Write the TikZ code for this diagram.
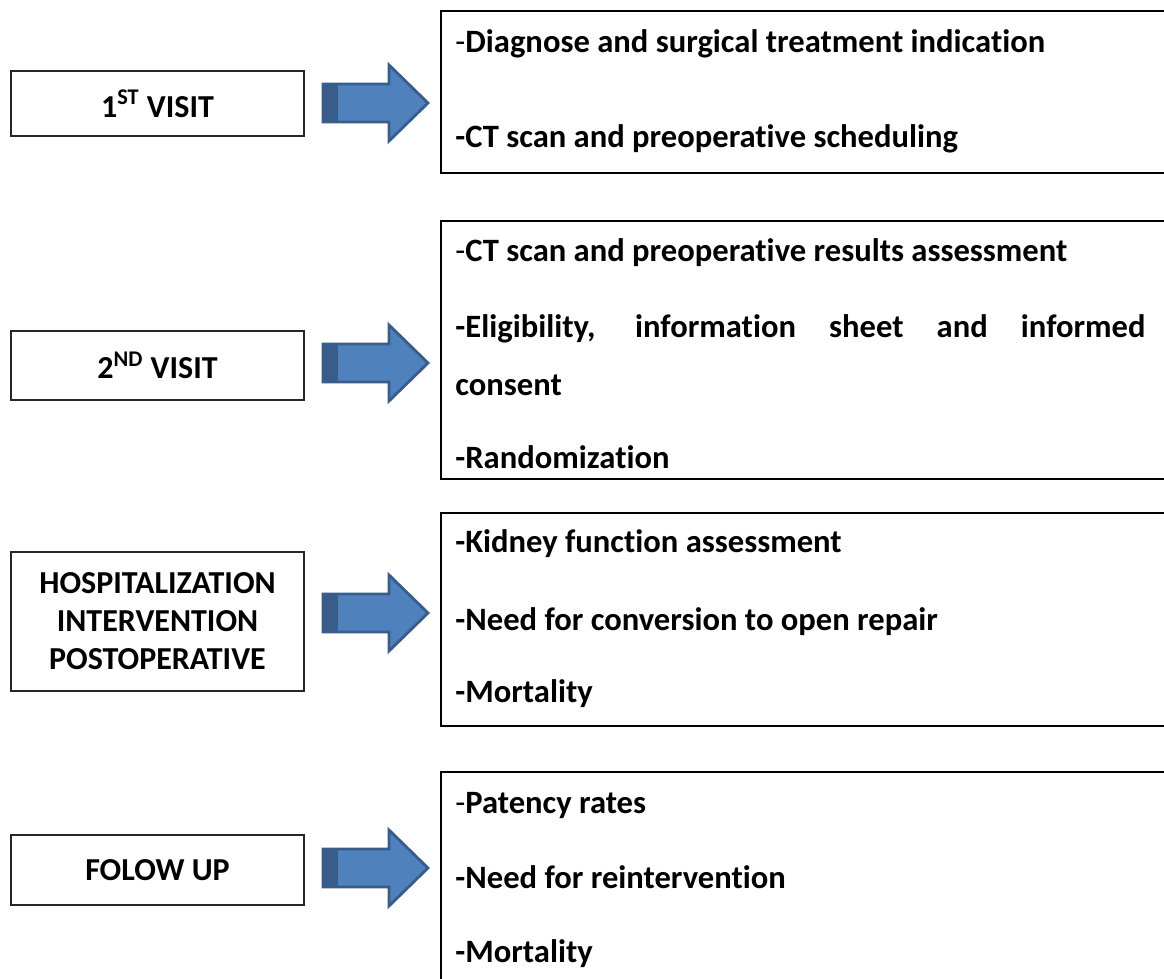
\documentclass[tikz,border=0pt]{standalone}
\usepackage{fontspec}
\setmainfont{Carlito}[Ligatures={TeX,NoCommon}]
\definecolor{arrowblue}{RGB}{79,129,189}
\definecolor{arrowdark}{RGB}{56,93,138}

\begin{document}
\begin{tikzpicture}[x=0.5pt,y=-0.5pt,
  stage/.style={draw=black!85,line width=0.7pt,minimum width=146.5pt,align=center,
    font=\bfseries\fontsize{16}{19}\selectfont},
  item/.style={anchor=base west,inner sep=0pt,font=\bfseries\fontsize{16.3}{19}\selectfont},
  panel/.style={draw=black,line width=1pt}]

  \useasboundingbox (0,0) rectangle (1164,979);
  \clip (0,0) rectangle (1164,979);

  % stages on the left
  \node[stage,minimum height=32.5pt] (stage1) at (157.5,103.5) {1\textsuperscript{ST} VISIT};
  \node[stage,minimum height=34.5pt] (stage2) at (157.5,365.5) {2\textsuperscript{ND} VISIT};
  \node[stage,minimum height=69.5pt] (stage3) at (157.5,621.5) {HOSPITALIZATION\\INTERVENTION\\POSTOPERATIVE};
  \node[stage,minimum height=35pt] (stage4) at (157.5,870) {FOLOW UP};

  % block arrows
  \foreach \y in {103,363,613,868} {
    \draw[fill=arrowblue,draw=arrowdark,line width=1.4pt,line join=miter]
      (323,\y-19) -- (389,\y-19) -- (389,\y-38) -- (428,\y) -- (389,\y+38)
      -- (389,\y+19) -- (323,\y+19) -- cycle;
    \fill[arrowdark] (323,\y-19) rectangle (338,\y+19);
  }

  % panels on the right
  \draw[panel] (1180,11) -- (441,11) -- (441,173) -- (1180,173);
  \draw[panel] (1180,221) -- (441,221) -- (441,479) -- (1180,479);
  \draw[panel] (1180,513) -- (441,513) -- (441,726) -- (1180,726);
  \draw[panel] (1180,772) -- (441,772) -- (441,990);

  \node[item] (diag) at (455,53) {{\mdseries-}Diagnose and surgical treatment indication};
  \node[item] (sched) at (455,148) {-CT scan and preoperative scheduling};

  \node[item] (assess) at (455,262) {{\mdseries-}CT scan and preoperative results assessment};
  \node[item] (elig) at (455,337) {\makebox[345pt][s]{-Eligibility, information sheet and informed}};
  \node[item] (consent) at (455,395) {consent};
  \node[item] (random) at (455,468) {-Randomization};

  \node[item] (kidney) at (455,552) {-Kidney function assessment};
  \node[item] (conv) at (455,630) {-Need for conversion to open repair};
  \node[item] (mort1) at (455,702) {-Mortality};

  \node[item] (patency) at (455,813) {{\mdseries-}Patency rates};
  \node[item] (reint) at (455,888) {-Need for reintervention};
  \node[item] (mort2) at (455,962) {-Mortality};
\end{tikzpicture}
\end{document}
